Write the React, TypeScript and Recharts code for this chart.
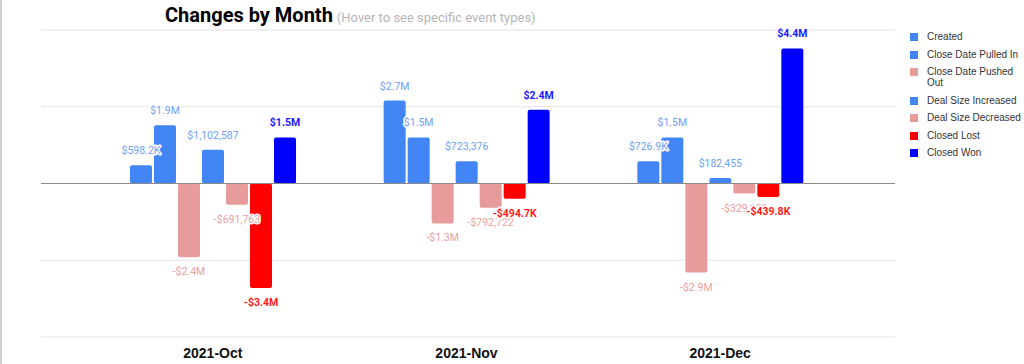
import React from "react";
import {
  BarChart,
  Bar,
  XAxis,
  YAxis,
  CartesianGrid,
  ReferenceLine,
  LabelList,
} from "recharts";

const categories = ["2021-Oct", "2021-Nov", "2021-Dec"];

const created = [598200, 2700000, 726900];
const pulledIn = [1900000, 1500000, 1500000];
const pushedOut = [-2400000, -1300000, -2900000];
const sizeIncreased = [1102587, 723376, 182455];
const sizeDecreased = [-691763, -792722, -329120];
const closedLost = [-3400000, -494700, -439800];
const closedWon = [1500000, 2400000, 4400000];

const createdLabels = ["$598.2K", "$2.7M", "$726.9K"];
const pulledInLabels = ["$1.9M", "$1.5M", "$1.5M"];
const pushedOutLabels = ["-$2.4M", "-$1.3M", "-$2.9M"];
const sizeIncreasedLabels = ["$1,102,587", "$723,376", "$182,455"];
const sizeDecreasedLabels = ["-$691,763", "-$792,722", "-$329,120"];
const closedLostLabels = ["-$3.4M", "-$494.7K", "-$439.8K"];
const closedWonLabels = ["$1.5M", "$2.4M", "$4.4M"];

const yTicks = [-5000000, -2500000, 0, 2500000, 5000000];

type Series = {
  key: string;
  name: string;
  values: number[];
  labels: string[];
  color: string;
  labelColor: string;
  bold: boolean;
};

const series: Series[] = [
  { key: "created", name: "Created", values: created, labels: createdLabels, color: "#4285F4", labelColor: "#6E9FF5", bold: false },
  { key: "pulledIn", name: "Close Date Pulled In", values: pulledIn, labels: pulledInLabels, color: "#4285F4", labelColor: "#6E9FF5", bold: false },
  { key: "pushedOut", name: "Close Date Pushed Out", values: pushedOut, labels: pushedOutLabels, color: "#E89B9B", labelColor: "#EBA0A0", bold: false },
  { key: "sizeIncreased", name: "Deal Size Increased", values: sizeIncreased, labels: sizeIncreasedLabels, color: "#4285F4", labelColor: "#6E9FF5", bold: false },
  { key: "sizeDecreased", name: "Deal Size Decreased", values: sizeDecreased, labels: sizeDecreasedLabels, color: "#E89B9B", labelColor: "#EBA0A0", bold: false },
  { key: "closedLost", name: "Closed Lost", values: closedLost, labels: closedLostLabels, color: "#FF0000", labelColor: "#FF1A1A", bold: true },
  { key: "closedWon", name: "Closed Won", values: closedWon, labels: closedWonLabels, color: "#0000FF", labelColor: "#1A1AFF", bold: true },
];

const data = categories.map((c, i) => {
  const row: Record<string, string | number> = { month: c };
  series.forEach((s) => {
    row[s.key] = s.values[i];
  });
  return row;
});

const FONT = "Roboto, 'Liberation Sans', Arial, sans-serif";
const ARIAL = "'Liberation Sans', Arial, sans-serif";

function makeLabel(s: Series) {
  return (props: any) => {
    const { x, y, width, height, index } = props;
    const top = Math.min(y, y + height);
    const bottom = Math.max(y, y + height);
    const v = s.values[index];
    const cx = x + width / 2;
    const ty = v >= 0 ? top - 11 : bottom + 18;
    return (
      <text
        x={cx}
        y={ty}
        textAnchor="middle"
        fontFamily={FONT}
        fontSize={10.5}
        fontWeight={s.bold ? 700 : 400}
        fill={s.labelColor}
        stroke="#ffffff"
        strokeWidth={3}
        paintOrder="stroke"
        strokeLinejoin="round"
      >
        {s.labels[index]}
      </text>
    );
  };
}

const MonthTick = (props: any) => {
  const { x, payload } = props;
  return (
    <text
      x={x}
      y={358}
      textAnchor="middle"
      fontFamily={ARIAL}
      fontSize={14}
      fontWeight={700}
      fill="#111"
    >
      {payload.value}
    </text>
  );
};

const LegendBox = () => (
  <div
    style={{
      position: "absolute",
      left: 910,
      top: 31,
      fontFamily: ARIAL,
      fontSize: 10,
      color: "#333",
    }}
  >
    {series.map((s) => (
      <div
        key={s.key}
        style={{ display: "flex", alignItems: "flex-start", marginBottom: 6.5 }}
      >
        <div
          style={{
            width: 8,
            height: 8,
            background: s.color,
            marginTop: 2,
            marginRight: 9,
            flex: "0 0 auto",
          }}
        />
        <div style={{ lineHeight: "11px", width: 96 }}>{s.name}</div>
      </div>
    ))}
  </div>
);

export default function App() {
  return (
    <div
      style={{
        position: "fixed",
        left: 0,
        top: 0,
        width: 1024,
        height: 364,
        background: "#fff",
        overflow: "hidden",
      }}
    >
      <div
        style={{
          position: "absolute",
          left: 0,
          top: 0,
          width: 2,
          height: 364,
          background: "#d0d0d0",
        }}
      />
      <svg
        width={1024}
        height={30}
        style={{ position: "absolute", left: 0, top: 0, zIndex: 2 }}
      >
        <text x={165} y={22} fontFamily={FONT}>
          <tspan fontSize={20} fontWeight={700} fill="#000">
            Changes by Month
          </tspan>
          <tspan fontSize={13} fill="#b5b5b5" dx={4}>
            (Hover to see specific event types)
          </tspan>
        </text>
      </svg>
      <BarChart
        width={1024}
        height={364}
        data={data}
        margin={{ top: 30, right: 129, bottom: 0, left: 41 }}
        barSize={22}
        barGap={2}
      >
        <CartesianGrid vertical={false} stroke="#e2e2e2" strokeWidth={1} />
        <XAxis
          dataKey="month"
          axisLine={false}
          tickLine={false}
          height={27}
          padding={{ left: 45, right: 48 }}
          tick={<MonthTick />}
          interval={0}
        />
        <YAxis hide domain={[-5000000, 5000000]} ticks={yTicks} type="number" />
        <ReferenceLine y={0} stroke="#8a8a8a" strokeWidth={1} />
        {series.map((s) => (
          <Bar
            key={s.key}
            dataKey={s.key}
            name={s.name}
            fill={s.color}
            radius={2}
            isAnimationActive={false}
          >
            <LabelList dataKey={s.key} content={makeLabel(s)} />
          </Bar>
        ))}
      </BarChart>
      <LegendBox />
    </div>
  );
}
